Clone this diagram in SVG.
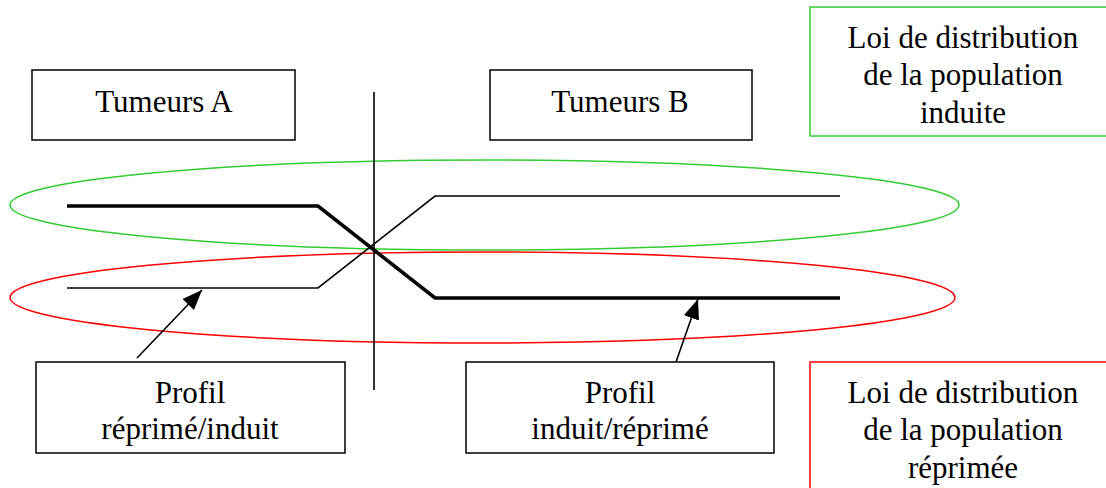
<svg xmlns="http://www.w3.org/2000/svg" width="1106" height="488" viewBox="0 0 1106 488">
<defs>
<marker id="ah" markerWidth="22" markerHeight="18" refX="20" refY="8" orient="auto" markerUnits="userSpaceOnUse">
<path d="M0,0 L20,8 L0,16 Z" fill="#000"/>
</marker>
</defs>
<rect width="1106" height="488" fill="#fff"/>
<g id="ellipses" fill="none" stroke-width="1.5">
<ellipse cx="484.5" cy="205" rx="474.5" ry="45" stroke="#33cc33"/>
<ellipse cx="482.5" cy="297.5" rx="472.5" ry="45.5" stroke="#ff0000"/>
</g>
<g id="connectors" fill="none" stroke="#000">
<line x1="374" y1="92" x2="374" y2="390" stroke-width="1.6"/>
<polyline points="67,206 318,206 435,298 840,298" stroke-width="3.6"/>
<polyline points="67,288 318,288 435,196 840,196" stroke-width="1.6"/>
<line x1="137" y1="358" x2="202" y2="290" stroke-width="1.6" marker-end="url(#ah)"/>
<line x1="676" y1="362" x2="698" y2="299" stroke-width="1.6" marker-end="url(#ah)"/>
</g>
<g id="tumeursA">
<rect x="32" y="70" width="263" height="70" fill="#fff" stroke="#000" stroke-width="1.5"/>
<text x="164" y="112" font-family="Liberation Serif" font-size="31" text-anchor="middle">Tumeurs A</text>
</g>
<g id="tumeursB">
<rect x="490" y="70" width="262" height="70" fill="#fff" stroke="#000" stroke-width="1.5"/>
<text x="620" y="112" font-family="Liberation Serif" font-size="31" text-anchor="middle">Tumeurs B</text>
</g>
<g id="loiInduite">
<rect x="810" y="7" width="310" height="129" fill="#fff" stroke="#33cc33" stroke-width="1.5"/>
<text x="963" y="48" font-family="Liberation Serif" font-size="31" text-anchor="middle">Loi de distribution</text>
<text x="963" y="85" font-family="Liberation Serif" font-size="31" text-anchor="middle">de la population</text>
<text x="963" y="123" font-family="Liberation Serif" font-size="31" text-anchor="middle">induite</text>
</g>
<g id="loiReprimee">
<rect x="810" y="362" width="310" height="140" fill="#fff" stroke="#ff0000" stroke-width="1.5"/>
<text x="963" y="403" font-family="Liberation Serif" font-size="31" text-anchor="middle">Loi de distribution</text>
<text x="963" y="440" font-family="Liberation Serif" font-size="31" text-anchor="middle">de la population</text>
<text x="963" y="478" font-family="Liberation Serif" font-size="31" text-anchor="middle">réprimée</text>
</g>
<g id="profilRI">
<rect x="36" y="362" width="309" height="91" fill="#fff" stroke="#000" stroke-width="1.5"/>
<text x="190" y="403" font-family="Liberation Serif" font-size="31" text-anchor="middle">Profil</text>
<text x="190" y="439" font-family="Liberation Serif" font-size="31" text-anchor="middle">réprimé/induit</text>
</g>
<g id="profilIR">
<rect x="466" y="362" width="308" height="91" fill="#fff" stroke="#000" stroke-width="1.5"/>
<text x="620" y="403" font-family="Liberation Serif" font-size="31" text-anchor="middle">Profil</text>
<text x="620" y="439" font-family="Liberation Serif" font-size="31" text-anchor="middle">induit/réprimé</text>
</g>
</svg>
